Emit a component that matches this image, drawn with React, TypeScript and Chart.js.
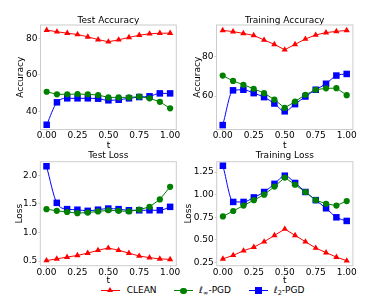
import React, { useEffect, useRef } from "react";
import { Chart, registerables } from "chart.js";
Chart.register(...registerables);

const T_VALUES = [0, 0.0833, 0.1667, 0.25, 0.3333, 0.4167, 0.5, 0.5833, 0.6667, 0.75, 0.8333, 0.9167, 1.0];
const X_TICKS = [0, 0.25, 0.5, 0.75, 1.0];

const TEST_ACC_CLEAN = [84.6, 83.7, 82.9, 82.2, 80.9, 79.4, 78.2, 79.3, 80.6, 81.8, 82.6, 82.9, 82.9];
const TEST_ACC_LINF = [50.8, 49.4, 49.4, 49.5, 49.4, 49.0, 47.7, 47.7, 47.7, 48.1, 47.2, 45.3, 41.7];
const TEST_ACC_L2 = [32.7, 45.0, 47.2, 47.2, 47.2, 47.0, 46.1, 46.4, 47.2, 47.9, 48.3, 49.9, 49.9];

const TRAIN_ACC_CLEAN = [92.9, 92.3, 91.4, 90.4, 88.1, 85.9, 83.2, 85.9, 88.6, 90.6, 91.8, 92.4, 92.9];
const TRAIN_ACC_LINF = [70.3, 67.6, 65.7, 63.7, 61.5, 58.3, 54.1, 57.3, 60.7, 63.2, 63.9, 64.0, 60.5];
const TRAIN_ACC_L2 = [45.5, 62.9, 63.2, 61.5, 59.5, 56.3, 52.4, 56.0, 59.8, 63.2, 66.2, 70.3, 71.1];

const TEST_LOSS_CLEAN = [0.51, 0.54, 0.57, 0.6, 0.64, 0.69, 0.73, 0.69, 0.64, 0.59, 0.56, 0.54, 0.53];
const TEST_LOSS_LINF = [1.41, 1.38, 1.36, 1.34, 1.35, 1.37, 1.39, 1.38, 1.37, 1.4, 1.45, 1.58, 1.8];
const TEST_LOSS_L2 = [2.16, 1.52, 1.41, 1.4, 1.38, 1.4, 1.42, 1.41, 1.39, 1.39, 1.39, 1.39, 1.45];

const TRAIN_LOSS_CLEAN = [0.29, 0.33, 0.38, 0.42, 0.48, 0.55, 0.62, 0.55, 0.48, 0.41, 0.36, 0.31, 0.27];
const TRAIN_LOSS_LINF = [0.76, 0.82, 0.88, 0.94, 1.0, 1.09, 1.19, 1.11, 1.03, 0.94, 0.9, 0.88, 0.93];
const TRAIN_LOSS_L2 = [1.32, 0.92, 0.92, 0.97, 1.03, 1.12, 1.21, 1.13, 1.03, 0.94, 0.85, 0.75, 0.71];

const TEST_ACC_TICKS = [40, 60, 80];
const TRAIN_ACC_TICKS = [60, 80];
const TEST_LOSS_TICKS = [0.5, 1.0, 1.5, 2.0];
const TRAIN_LOSS_TICKS = [0.25, 0.5, 0.75, 1.0, 1.25];

const FONT = "'DejaVu Sans', 'Liberation Sans', sans-serif";
const RED = "#ff0000";
const GREEN = "#008000";
const BLUE = "#0000ff";
const BOX = "#cccccc";

type Panel = {
  title: string;
  ylabel: string;
  clean: number[];
  linf: number[];
  l2: number[];
  yMin: number;
  yMax: number;
  yTicks: number[];
  digits: number;
  left: number;
  top: number;
  width: number;
  height: number;
  axisW: number;
  axisH: number;
  padRight: number;
  titleTop: number;
  titleBottom: number;
  ylabelPad: number;
  xlabelPad: number;
};

const PANELS: Panel[] = [
  {
    title: "Test Accuracy", ylabel: "Accuracy",
    clean: TEST_ACC_CLEAN, linf: TEST_ACC_LINF, l2: TEST_ACC_L2,
    yMin: 30.1, yMax: 87.4, yTicks: TEST_ACC_TICKS, digits: 0,
    left: 0, top: 0, width: 186, height: 151, axisW: 40.5, axisH: 21.5, padRight: 9.7,
    titleTop: 15.8, titleBottom: 0.2, ylabelPad: 16, xlabelPad: 1.3,
  },
  {
    title: "Training Accuracy", ylabel: "Accuracy",
    clean: TRAIN_ACC_CLEAN, linf: TRAIN_ACC_LINF, l2: TRAIN_ACC_L2,
    yMin: 43.3, yMax: 95.6, yTicks: TRAIN_ACC_TICKS, digits: 0,
    left: 186, top: 0, width: 197, height: 151, axisW: 30.5, axisH: 21.5, padRight: 30.1,
    titleTop: 15.8, titleBottom: 0.2, ylabelPad: 6.8, xlabelPad: 1.3,
  },
  {
    title: "Test Loss", ylabel: "Loss",
    clean: TEST_LOSS_CLEAN, linf: TEST_LOSS_LINF, l2: TEST_LOSS_L2,
    yMin: 0.42, yMax: 2.24, yTicks: TEST_LOSS_TICKS, digits: 1,
    left: 0, top: 151, width: 184, height: 134, axisW: 40.3, axisH: 19.3, padRight: 7.7,
    titleTop: 0.2, titleBottom: 1.5, ylabelPad: 14.7, xlabelPad: 0.2,
  },
  {
    title: "Training Loss", ylabel: "Loss",
    clean: TRAIN_LOSS_CLEAN, linf: TRAIN_LOSS_LINF, l2: TRAIN_LOSS_L2,
    yMin: 0.215, yMax: 1.365, yTicks: TRAIN_LOSS_TICKS, digits: 2,
    left: 184, top: 151, width: 199, height: 134, axisW: 32.7, axisH: 19.3, padRight: 30.1,
    titleTop: 0.2, titleBottom: 1.5, ylabelPad: 0.2, xlabelPad: 0.2,
  },
];

const boxPlugin = {
  id: "boxPlugin",
  beforeDatasetsDraw(chart: any) {
    const { ctx, chartArea } = chart;
    ctx.save();
    ctx.strokeStyle = BOX;
    ctx.lineWidth = 1;
    ctx.strokeRect(chartArea.left, chartArea.top, chartArea.right - chartArea.left, chartArea.bottom - chartArea.top);
    ctx.restore();
  },
};

function PanelChart({ p }: { p: Panel }) {
  const ref = useRef<HTMLCanvasElement | null>(null);
  useEffect(() => {
    if (!ref.current) return;
    const font = { family: FONT, size: 9, lineHeight: 1, weight: "normal" as const };
    const mk = (vals: number[]) => vals.map((v, i) => ({ x: T_VALUES[i], y: v }));
    const chart = new Chart(ref.current, {
      type: "line",
      data: {
        datasets: [
          {
            label: "CLEAN", data: mk(p.clean), borderColor: RED, backgroundColor: RED,
            borderWidth: 1, pointStyle: "triangle", pointRadius: 3.6, pointBorderWidth: 0, clip: false as any,
          },
          {
            label: "linf", data: mk(p.linf), borderColor: GREEN, backgroundColor: GREEN,
            borderWidth: 1, pointStyle: "circle", pointRadius: 3.1, pointBorderWidth: 0, clip: false as any,
          },
          {
            label: "l2", data: mk(p.l2), borderColor: BLUE, backgroundColor: BLUE,
            borderWidth: 1, pointStyle: "rect", pointRadius: 4.6, pointBorderWidth: 0,
            cubicInterpolationMode: "monotone", clip: false as any,
          },
        ],
      },
      options: {
        responsive: false,
        animation: false,
        devicePixelRatio: 1,
        layout: { padding: { left: 0, top: 0, bottom: 0, right: p.padRight } },
        plugins: {
          legend: { display: false },
          tooltip: { enabled: false },
          title: {
            display: true, text: p.title, fullSize: false, color: "#000",
            font, padding: { top: p.titleTop, bottom: p.titleBottom },
          },
        },
        scales: {
          x: {
            type: "linear", min: -0.05, max: 1.05,
            afterBuildTicks: (s: any) => { s.ticks = X_TICKS.map((v) => ({ value: v })); },
            afterFit: (s: any) => { s.height = p.axisH; },
            grid: { display: true, drawOnChartArea: false, drawTicks: true, tickLength: 2, color: BOX },
            border: { display: false },
            ticks: { color: "#000", font, padding: 0, maxRotation: 0, autoSkip: false,
              callback: (v: any) => Number(v).toFixed(2) },
            title: { display: true, text: "t", color: "#000", font, padding: { top: 0, bottom: p.xlabelPad } },
          },
          y: {
            type: "linear", min: p.yMin, max: p.yMax,
            afterBuildTicks: (s: any) => { s.ticks = p.yTicks.map((v) => ({ value: v })); },
            afterFit: (s: any) => { s.width = p.axisW; },
            grid: { display: true, drawOnChartArea: false, drawTicks: true, tickLength: 2, color: BOX },
            border: { display: false },
            ticks: { color: "#000", font, padding: 1, autoSkip: false,
              callback: (v: any) => Number(v).toFixed(p.digits) },
            title: { display: true, text: p.ylabel, color: "#000", font, padding: { top: p.ylabelPad, bottom: 0 } },
          },
        },
      } as any,
      plugins: [boxPlugin],
    });
    return () => chart.destroy();
  }, [p]);
  return (
    <canvas
      ref={ref}
      width={p.width}
      height={p.height}
      style={{ position: "absolute", left: p.left, top: p.top, width: p.width, height: p.height }}
    />
  );
}

function LegendItem({ x, color, marker, children, textX }: any) {
  const cy = 290.7;
  let m: any;
  if (marker === "triangle") {
    m = { position: "absolute", left: x + 9 - 3.2, top: cy - 3.6, width: 0, height: 0,
      borderLeft: "3.2px solid transparent", borderRight: "3.2px solid transparent", borderBottom: `5.6px solid ${color}` };
  } else if (marker === "circle") {
    m = { position: "absolute", left: x + 9.5 - 3.1, top: cy - 3.1, width: 6.2, height: 6.2, borderRadius: "50%", background: color };
  } else {
    m = { position: "absolute", left: x + 9.5 - 3.3, top: cy - 3.3, width: 6.6, height: 6.6, background: color };
  }
  return (
    <>
      <div style={{ position: "absolute", left: x, top: cy - 0.5, width: 19, height: 1, background: color }} />
      <div style={m} />
      <div style={{ position: "absolute", left: textX, top: cy - 5.5, fontFamily: FONT, fontSize: 9, lineHeight: "11px", color: "#000", whiteSpace: "nowrap" }}>
        {children}
      </div>
    </>
  );
}

export default function App() {
  return (
    <div style={{ position: "fixed", left: 0, top: 0, width: 383, height: 299, background: "#fff", overflow: "hidden" }}>
      {PANELS.map((p, i) => (
        <PanelChart key={i} p={p} />
      ))}
      <LegendItem x={101} color={RED} marker="triangle" textX={126.7}>CLEAN</LegendItem>
      <LegendItem x={174} color={GREEN} marker="circle" textX={199.3}>
        <i>ℓ</i>
        <span style={{ fontSize: 6.5, position: "relative", top: 2 }}>∞</span>-PGD
      </LegendItem>
      <LegendItem x={249} color={BLUE} marker="square" textX={274}>
        <i>ℓ</i>
        <span style={{ fontSize: 6.5, position: "relative", top: 2 }}>2</span>-PGD
      </LegendItem>
    </div>
  );
}
